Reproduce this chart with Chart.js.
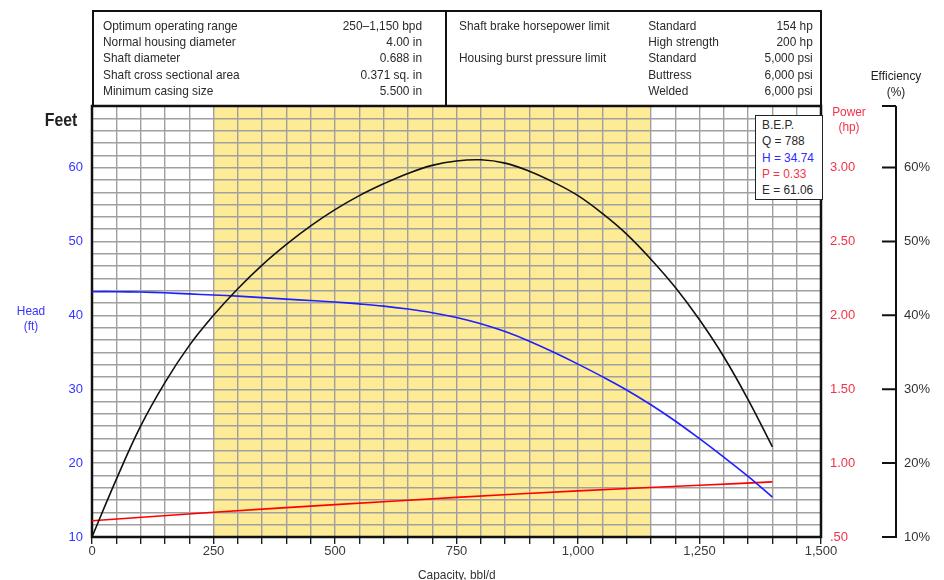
<!DOCTYPE html>
<html>
<head>
<meta charset="utf-8">
<script src="https://cdn.jsdelivr.net/npm/chart.js@4.4.0/dist/chart.umd.min.js"></script>
<style>
  body { margin: 0; background: #fff; overflow: hidden; }
  #wrap { position: relative; width: 944px; height: 580px; font-family: "Liberation Sans", Arial, sans-serif; color: #2a2a2a; font-size: 13.5px; }
  canvas { position: absolute; left: 0; top: 0; }
  .abs { position: absolute; white-space: nowrap; }
  .cond { transform: scaleX(0.88); transform-origin: 0 0; }
  .condc { transform: scaleX(0.88); transform-origin: 50% 0; }
  #specs { left: 92px; top: 10px; width: 726px; height: 94px; border: 2px solid #111; border-bottom: none; }
  #divider { left: 445px; top: 10px; width: 0; height: 96px; border-left: 2px solid #111; }
  .row { height: 16.2px; line-height: 16.2px; display: flex; }
  #leftBlock { left: 103px; top: 18px; width: 362.5px; }
  #leftBlock .row { justify-content: space-between; }
  #rightBlock { left: 459px; top: 18px; width: 402px; }
  #rightBlock .c1 { width: 215px; }
  #rightBlock .c2 { flex: 1; }
  #rightBlock .c3 { text-align: right; }
  #bep { left: 755px; top: 115px; width: 60px; height: 82px; border: 1.5px solid #222; background: #fff; padding: 1px 0 0 6px; }
  #bep .cond { line-height: 16.3px; }
</style>
</head>
<body>
<div id="wrap">
  <canvas id="chart" width="944" height="580"></canvas>
  <div id="specs" class="abs"></div>
  <div id="divider" class="abs"></div>
  <div id="leftBlock" class="abs cond"></div>
  <div id="rightBlock" class="abs cond"></div>
  <div id="bep" class="abs">
    <div class="cond">
      <div>B.E.P.</div>
      <div>Q = 788</div>
      <div style="color:#2a2aff">H = 34.74</div>
      <div style="color:#f2334a">P = 0.33</div>
      <div>E = 61.06</div>
    </div>
  </div>
  <div class="abs condc" style="left:31px; top:110px; width:60px; text-align:center; font-weight:bold; font-size:18px; color:#222;">Feet</div>
  <div class="abs condc" style="left:9px; top:303px; width:44px; text-align:center; line-height:15px; color:#3535ff;">Head<br>(ft)</div>
  <div class="abs condc" style="left:824px; top:104px; width:50px; text-align:center; line-height:15px; color:#f2334a;">Power<br>(hp)</div>
  <div class="abs condc" style="left:856px; top:68px; width:80px; text-align:center; line-height:16px; color:#222;">Efficiency<br>(%)</div>
  <div class="abs cond" style="left:418px; top:567px; color:#333;">Capacity, bbl/d</div>
</div>
<script>
// pump curve data
const capacity = [0, 50, 100, 150, 200, 250, 300, 350, 400, 450, 500, 550, 600, 650, 700,
    750, 800, 850, 900, 950, 1000, 1050, 1100, 1150, 1200, 1250, 1300, 1350, 1400];
const headFt = [43.2, 43.2, 43.15, 43.05, 42.9, 42.75, 42.6, 42.4, 42.2, 42.0, 41.8, 41.55, 41.25, 40.85, 40.35,
    39.7, 38.85, 37.8, 36.5, 35.0, 33.4, 31.7, 29.9, 27.9, 25.7, 23.3, 20.8, 18.2, 15.4];
const efficiencyPct = [10.0, 17.8, 25.0, 30.9, 35.9, 40.0, 43.6, 46.8, 49.6, 52.1, 54.3, 56.2, 57.8, 59.2, 60.3,
    60.9, 61.05, 60.6, 59.5, 58.0, 56.2, 53.8, 51.0, 47.6, 43.8, 39.4, 34.4, 28.6, 22.2];
const powerCapacity = [0, 250, 500, 750, 1000, 1250, 1400];
const powerHp = [0.61, 0.667, 0.719, 0.768, 0.812, 0.85, 0.873];

const optimumRange = [250, 1150];

const capacityTicks = [0, 250, 500, 750, 1000, 1250, 1500];
const headTicks = [10, 20, 30, 40, 50, 60];
const powerTicks = [0.5, 1.0, 1.5, 2.0, 2.5, 3.0];
const effTicks = [10, 20, 30, 40, 50, 60];

const specsLeft = [
    ["Optimum operating range", "250\u20131,150 bpd"],
    ["Normal housing diameter", "4.00 in"],
    ["Shaft diameter", "0.688 in"],
    ["Shaft cross sectional area", "0.371 sq. in"],
    ["Minimum casing size", "5.500 in"]
];
const specsRight = [
    ["Shaft brake horsepower limit", "Standard", "154 hp"],
    ["", "High strength", "200 hp"],
    ["Housing burst pressure limit", "Standard", "5,000 psi"],
    ["", "Buttress", "6,000 psi"],
    ["", "Welded", "6,000 psi"]
];

const FONT = '"Liberation Sans", Arial, sans-serif';
const headMin = 10, headStep = 10 / 6, headSteps = 35;
const headMax = headMin + headStep * headSteps;

function fillSpecs() {
    const left = document.querySelector("#leftBlock");
    for (let r of specsLeft) {
        let row = document.createElement("div");
        row.className = "row";
        row.innerHTML = `<span>${r[0]}</span><span>${r[1]}</span>`;
        left.appendChild(row);
    }
    const right = document.querySelector("#rightBlock");
    for (let r of specsRight) {
        let row = document.createElement("div");
        row.className = "row";
        row.innerHTML = `<span class="c1">${r[0]}</span><span class="c2">${r[1]}</span><span class="c3">${r[2]}</span>`;
        right.appendChild(row);
    }
}

const decor = {
    id: "decor",
    beforeDraw(chart) {
        const { ctx, chartArea: a, scales: { x } } = chart;
        const x1 = x.getPixelForValue(optimumRange[0]);
        const x2 = x.getPixelForValue(optimumRange[1]);
        ctx.save();
        ctx.fillStyle = "#fdec95";
        ctx.fillRect(x1, a.top, x2 - x1, a.bottom - a.top);
        ctx.restore();
    },
    beforeDatasetsDraw(chart) {
        const { ctx, chartArea: a } = chart;
        ctx.save();
        ctx.strokeStyle = "#111";
        ctx.lineWidth = 2.5;
        ctx.strokeRect(a.left, a.top, a.right - a.left, a.bottom - a.top);
        ctx.restore();
    },
    afterDraw(chart) {
        const { ctx } = chart;
        const e = chart.scales.e;
        const bx = e.left + 14;
        ctx.save();
        ctx.strokeStyle = "#111";
        ctx.lineWidth = 2;
        ctx.beginPath();
        ctx.moveTo(bx, e.top);
        ctx.lineTo(bx, e.bottom + 1);
        ctx.moveTo(e.left, e.top);
        ctx.lineTo(bx, e.top);
        for (let v of effTicks) {
            const y = e.getPixelForValue(v);
            ctx.moveTo(e.left, y);
            ctx.lineTo(bx, y);
        }
        ctx.stroke();
        ctx.restore();
    }
};

function start() {
    fillSpecs();

    const xy = (xs, ys) => xs.map((v, i) => ({ x: v, y: ys[i] }));

    new Chart(document.querySelector("#chart"), {
        type: "line",
        data: {
            datasets: [
                { label: "Efficiency", data: xy(capacity, efficiencyPct), yAxisID: "e", borderColor: "#111", borderWidth: 1.6 },
                { label: "Head", data: xy(capacity, headFt), yAxisID: "y", borderColor: "#1f1fff", borderWidth: 1.6 },
                { label: "Power", data: xy(powerCapacity, powerHp), yAxisID: "p", borderColor: "#ff0000", borderWidth: 1.6 }
            ]
        },
        options: {
            responsive: false,
            animation: false,
            layout: { padding: { top: 106, left: 0, right: 0, bottom: 0 } },
            elements: { point: { radius: 0 }, line: { tension: 0.4 } },
            plugins: { legend: { display: false }, tooltip: { enabled: false } },
            scales: {
                x: {
                    type: "linear", min: 0, max: 1500,
                    afterBuildTicks: axis => {
                        axis.ticks = [];
                        for (let v = 0; v <= 1500; v += 50) axis.ticks.push({ value: v });
                    },
                    afterFit: axis => { axis.height = 43; },
                    grid: { color: "#a0a0a0", lineWidth: 1.4, tickColor: "#111", tickLength: 7, tickWidth: 1.3 },
                    border: { display: false },
                    ticks: {
                        autoSkip: false, maxRotation: 0, padding: 0,
                        color: "#3a3a3a", font: { family: FONT, size: 13 },
                        callback: v => capacityTicks.includes(v) ? v.toLocaleString("en-US") : ""
                    }
                },
                y: {
                    position: "left", min: headMin, max: headMax,
                    afterBuildTicks: axis => {
                        axis.ticks = [];
                        for (let i = 0; i <= headSteps; i++) axis.ticks.push({ value: headMin + i * headStep });
                    },
                    afterFit: axis => { axis.width = 92; },
                    grid: { color: "#a0a0a0", lineWidth: 1.4, drawTicks: false },
                    border: { display: false },
                    ticks: {
                        autoSkip: false, padding: 9,
                        color: "#3535ff", font: { family: FONT, size: 13 },
                        callback: v => {
                            const t = headTicks.find(h => Math.abs(h - v) < 1e-6);
                            return t === undefined ? "" : String(t);
                        }
                    }
                },
                p: {
                    position: "right", min: 0.5, max: 0.5 + (headMax - headMin) / 20,
                    afterBuildTicks: axis => { axis.ticks = powerTicks.map(v => ({ value: v })); },
                    afterFit: axis => { axis.width = 61; },
                    grid: { display: false, drawTicks: false },
                    border: { display: false },
                    ticks: {
                        autoSkip: false, padding: 9,
                        color: "#f2334a", font: { family: FONT, size: 13 },
                        callback: v => v === 0.5 ? ".50" : v.toFixed(2)
                    }
                },
                e: {
                    position: "right", min: headMin, max: headMax,
                    afterBuildTicks: axis => { axis.ticks = effTicks.map(v => ({ value: v })); },
                    afterFit: axis => { axis.width = 62; },
                    grid: { display: false, drawTicks: false },
                    border: { display: false },
                    ticks: {
                        autoSkip: false, padding: 22,
                        color: "#333", font: { family: FONT, size: 13 },
                        callback: v => v + "%"
                    }
                }
            }
        },
        plugins: [decor]
    });
}

start();
</script>
</body>
</html>
